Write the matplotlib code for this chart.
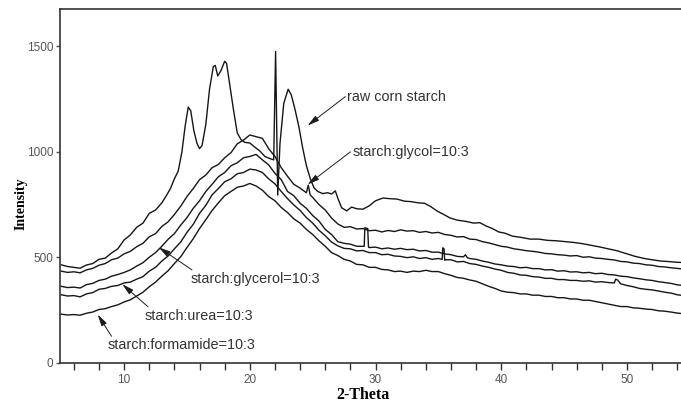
import numpy as np
import matplotlib
matplotlib.use("Agg")
import matplotlib.pyplot as plt
from matplotlib.ticker import MultipleLocator

# 2-theta sampling used for the four plasticized samples
grid_x = np.arange(5.0, 55.0, 0.5)

glycol_y = [434, 428, 431, 426, 440, 447, 462, 470, 488, 496,
            516, 528, 550, 566, 597, 612, 646, 668, 703, 742,
            788, 826, 868, 890, 925, 940, 972, 996, 1038, 1056,
            1080, 1072, 1064, 1015, 978, 925, 884, 846, 828, 806,
            784, 750, 724, 686, 658, 642, 645, 634, 636, 626,
            628, 620, 627, 622, 630, 624, 626, 618, 622, 615,
            618, 608, 604, 596, 598, 586, 584, 574, 568, 560,
            552, 548, 540, 536, 531, 528, 524, 518, 516, 512,
            510, 506, 508, 500, 502, 496, 494, 490, 487, 480,
            478, 472, 470, 464, 462, 456, 454, 450, 447, 444]
glycol_extra_x = [24.65, 24.8]
glycol_extra_y = [842, 796]

glycerol_y = [362, 356, 358, 354, 370, 376, 390, 396, 410, 418,
              428, 440, 458, 474, 500, 522, 552, 585, 612, 652,
              688, 732, 768, 812, 846, 882, 902, 934, 948, 972,
              978, 988, 962, 938, 898, 868, 812, 792, 756, 732,
              698, 672, 632, 608, 574, 566, 562, 552, 552, 546,
              548, 540, 544, 538, 542, 536, 538, 530, 532, 524,
              524, 516, 512, 504, 502, 494, 490, 482, 476, 468,
              464, 458, 456, 450, 452, 446, 446, 440, 441, 434,
              436, 430, 431, 426, 428, 422, 424, 418, 416, 410,
              408, 402, 398, 393, 390, 384, 380, 376, 369, 366]
glycerol_extra_x = [29.1, 29.15, 29.38, 29.44, 37.15, 37.3]
glycerol_extra_y = [552, 640, 636, 548, 512, 498]

urea_y = [322, 316, 318, 312, 326, 332, 348, 352, 362, 366,
          378, 382, 396, 408, 434, 452, 482, 506, 540, 572,
          618, 656, 708, 746, 796, 826, 858, 872, 896, 902,
          918, 914, 902, 872, 848, 812, 778, 748, 722, 688,
          662, 628, 602, 572, 554, 542, 540, 530, 532, 522,
          522, 512, 514, 506, 504, 498, 502, 494, 498, 490,
          494, 486, 488, 478, 480, 470, 466, 458, 452, 444,
          438, 428, 424, 416, 414, 408, 406, 400, 400, 394,
          394, 390, 390, 386, 388, 382, 384, 380, 378, 374,
          366, 360, 352, 348, 345, 340, 334, 330, 322, 318]
urea_extra_x = [35.3, 35.35, 35.45, 35.52, 49.1, 49.25]
urea_extra_y = [490, 545, 540, 488, 396, 392]

formamide_y = [230, 226, 228, 225, 234, 240, 252, 256, 266, 274,
               288, 298, 316, 334, 360, 382, 410, 436, 470, 502,
               546, 588, 636, 678, 722, 758, 792, 812, 832, 838,
               850, 838, 818, 788, 768, 736, 712, 682, 662, 632,
               608, 578, 552, 522, 508, 490, 482, 466, 464, 452,
               452, 442, 440, 432, 434, 428, 434, 432, 438, 432,
               432, 422, 414, 404, 400, 392, 386, 374, 362, 352,
               340, 334, 332, 326, 326, 320, 320, 314, 314, 308,
               308, 302, 302, 296, 296, 290, 284, 278, 272, 266,
               266, 260, 258, 254, 252, 246, 244, 240, 235, 232]

raw_x = [5.0, 5.5, 6.0, 6.5, 7.0, 7.5, 8.0, 8.5, 9.0, 9.5,
         10.0, 10.5, 11.0, 11.5, 12.0, 12.5, 13.0, 13.4, 13.7, 14.0,
         14.3, 14.6, 14.85, 15.1, 15.3, 15.55, 15.8, 16.0, 16.2, 16.5,
         16.8, 17.1, 17.25, 17.45, 17.7, 18.0, 18.15, 18.4, 18.7, 19.0,
         19.3, 19.6, 20.0, 20.4, 20.8, 21.2, 21.6, 21.9, 22.05, 22.22,
         22.4, 22.7, 23.05, 23.3, 23.6, 23.9, 24.2, 24.5, 24.8, 25.1,
         25.4, 25.8, 26.2, 26.5, 26.8, 27.0, 27.3, 27.7, 28.1, 28.5,
         29.0, 29.5, 30.0, 30.6, 31.1, 31.7, 32.3, 32.8, 33.4, 33.9,
         34.4, 34.9, 35.4, 35.9, 36.5, 37.2, 37.8, 38.3, 38.8, 39.3,
         39.8, 40.3, 40.9, 41.6, 42.3, 43.0, 43.7, 44.4, 45.1, 45.8,
         46.5, 47.2, 47.9, 48.5, 49.2, 49.9, 50.6, 51.3, 52.0, 52.7,
         53.4, 54.0, 54.5]
raw_y = [464, 456, 452, 448, 463, 470, 490, 496, 520, 540,
         582, 606, 642, 662, 708, 724, 758, 796, 828, 872,
         908, 1000, 1120, 1212, 1195, 1100, 1040, 1015, 1030, 1130,
         1300, 1405, 1410, 1360, 1385, 1430, 1420, 1320, 1200, 1090,
         1058, 1045, 1042, 1022, 1004, 978, 968, 962, 1476, 795,
         1040, 1230, 1297, 1270, 1200, 1120, 1020, 935, 875, 830,
         812, 802, 806, 800, 815, 780, 735, 720, 738, 730,
         728, 744, 768, 781, 778, 776, 766, 764, 758, 756,
         740, 719, 704, 687, 676, 670, 662, 664, 648, 636,
         620, 614, 600, 594, 586, 586, 580, 578, 574, 570,
         564, 556, 548, 540, 531, 518, 505, 495, 488, 482,
         479, 476, 475]

# annotations: label, text position, arrow tail, arrow tip
labels = ["raw corn starch", "starch:glycol=10:3", "starch:glycerol=10:3",
          "starch:urea=10:3", "starch:formamide=10:3"]
label_xy = [(27.75, 1262), (28.15, 1000), (15.25, 395), (11.65, 222), (8.65, 82)]
tail_xy = [(27.6, 1262), (28.0, 1000), (15.4, 440), (11.9, 265), (9.0, 125)]
tip_xy = [(24.6, 1125), (24.6, 845), (12.75, 547), (9.85, 372), (7.9, 228)]


def merge(xs, ys, ex, ey):
    pts = sorted(zip(list(xs) + list(ex), list(ys) + list(ey)))
    return [p[0] for p in pts], [p[1] for p in pts]


fig = plt.figure(figsize=(6.81, 4.07), dpi=100)
ax = fig.add_axes([0.0881, 0.108, 0.9119, 0.870])

line_kw = dict(color="#161616", lw=1.0)
ax.plot(raw_x, raw_y, **line_kw)
ax.plot(*merge(grid_x, glycol_y, glycol_extra_x, glycol_extra_y), **line_kw)
ax.plot(*merge(grid_x, glycerol_y, glycerol_extra_x, glycerol_extra_y), **line_kw)
ax.plot(*merge(grid_x, urea_y, urea_extra_x, urea_extra_y), **line_kw)
ax.plot(grid_x, formamide_y, **line_kw)

for text, txy, tip, tail in zip(labels, label_xy, tip_xy, tail_xy):
    ax.text(txy[0], txy[1], text, fontsize=10.4, family="Liberation Sans",
            color="#333333", va="center", ha="left")
    ax.annotate("", xy=tip, xytext=tail,
                arrowprops=dict(arrowstyle="-|>,head_length=0.7,head_width=0.18",
                                color="#1c1c1c", lw=0.7, shrinkA=0, shrinkB=0))

ax.set_xlim(4.9, 54.3)
ax.set_ylim(-2, 1678)
ax.xaxis.set_major_locator(MultipleLocator(10))
ax.xaxis.set_minor_locator(MultipleLocator(2))
ax.set_yticks([0, 500, 1000, 1500])
ax.tick_params(axis="x", which="both", direction="out", length=5, width=1,
               color="#333333", labelsize=8.5, labelcolor="#555555", pad=3)
ax.tick_params(axis="y", direction="out", length=3, width=1, color="#555555",
               labelsize=8.5, labelcolor="#555555", pad=2)
for lab in ax.get_xticklabels() + ax.get_yticklabels():
    lab.set_family("Liberation Sans")

ax.spines["right"].set_visible(False)
for s in ["left", "top", "bottom"]:
    ax.spines[s].set_color("#333333")
    ax.spines[s].set_linewidth(1.2)

fig.text(0.031, 0.50, "Intensity", rotation=90, ha="center", va="center",
         fontsize=10, fontweight="bold", family="Liberation Serif")
fig.text(0.533, 0.030, "2-Theta", ha="center", va="center",
         fontsize=11.5, fontweight="bold", family="Liberation Serif")

fig.savefig("out.png", dpi=100)
